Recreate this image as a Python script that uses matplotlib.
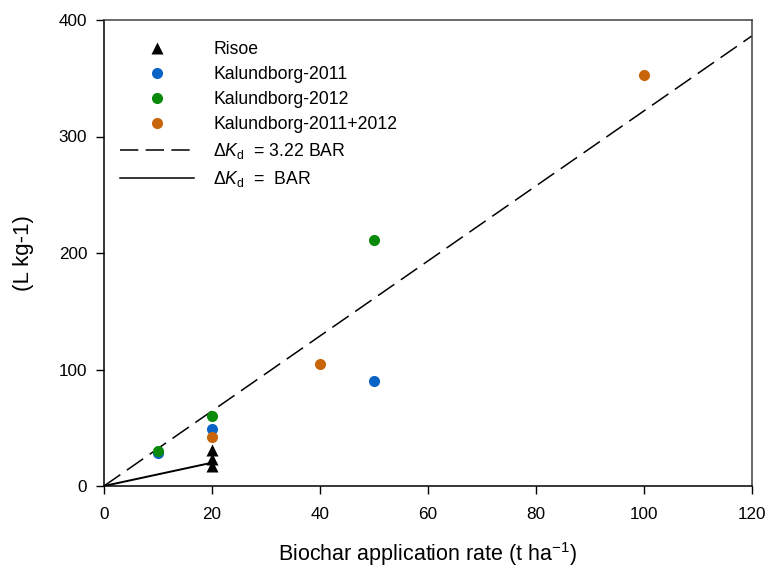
import matplotlib
matplotlib.use("Agg")
import matplotlib.pyplot as plt
import numpy as np
from matplotlib.lines import Line2D

plt.rcParams['font.family'] = ['Liberation Sans', 'DejaVu Sans']
plt.rcParams['mathtext.fontset'] = 'custom'
plt.rcParams['mathtext.rm'] = 'Liberation Sans'
plt.rcParams['mathtext.it'] = 'Liberation Sans:italic'

# Biochar application rate (t/ha) and Kd change (L/kg)
risoe_x = [20, 20, 20]
risoe_y = [31, 23, 17]
k2011_x = [10, 20, 50]
k2011_y = [28, 49, 90]
k2012_x = [10, 20, 50]
k2012_y = [30, 60, 211]
k1112_x = [20, 40, 100]
k1112_y = [42, 105, 353]
slope_fit = 3.22
slope_unit = 1.0

fig = plt.figure(figsize=(7.79, 5.70), dpi=100)
ax = fig.add_axes([104/779, 1-486/570, (752-104)/779, (486-20)/570])

blue = '#0a64c8'
green = '#0a8a0a'
orange = '#c8640a'

xl = np.array([0, 120])
ax.plot(xl, slope_fit * xl, color='black', lw=1.1, dashes=(13, 5.2))
xs = np.array([0, 20])
ax.plot(xs, slope_unit * xs, color='black', lw=1.4)

ax.plot(k2011_x, k2011_y, 'o', color=blue, ms=8, mec='none')
ax.plot(k2012_x, k2012_y, 'o', color=green, ms=8, mec='none')
ax.plot(k1112_x, k1112_y, 'o', color=orange, ms=8, mec='none')
ax.plot(risoe_x, risoe_y, '^', color='black', ms=8.5, mec='none')

ax.set_xlim(0, 120)
ax.set_ylim(0, 400)
ax.set_xticks(np.arange(0, 121, 20))
ax.set_yticks(np.arange(0, 401, 100))
ax.tick_params(direction='out', length=6, width=1, labelsize=12.3, colors='black',
               top=False, right=False)
ax.tick_params(axis='x', pad=9)
ax.tick_params(axis='y', pad=6)
for side in ['left', 'bottom']:
    ax.spines[side].set_color('black')
    ax.spines[side].set_linewidth(1.1)
for side in ['top', 'right']:
    ax.spines[side].set_color('#404040')
    ax.spines[side].set_linewidth(1.1)

ax.set_xlabel('Biochar application rate (t ha$^{-1}$)', fontsize=15.5, labelpad=13)
ax.set_ylabel('(L kg-1)', fontsize=16, labelpad=18)

handles = [
    Line2D([], [], ls='none', marker='^', color='black', ms=8.5, mec='none'),
    Line2D([], [], ls='none', marker='o', color=blue, ms=8, mec='none'),
    Line2D([], [], ls='none', marker='o', color=green, ms=8, mec='none'),
    Line2D([], [], ls='none', marker='o', color=orange, ms=8, mec='none'),
    Line2D([], [], color='black', lw=1.1, dashes=(12, 4.8)),
    Line2D([], [], color='black', lw=1.1),
]
labels = ['Risoe', 'Kalundborg-2011', 'Kalundborg-2012', 'Kalundborg-2011+2012',
          r'$\Delta K_{\rm d}$  = 3.22 BAR', r'$\Delta K_{\rm d}$  =  BAR']
leg = ax.legend(handles, labels, loc='upper left', bbox_to_anchor=(0.0055, 0.982),
                frameon=False, fontsize=12.7, handlelength=4.2, handletextpad=1.1,
                labelspacing=0.46, borderpad=0.2)

fig.savefig('out.png', dpi=100)
